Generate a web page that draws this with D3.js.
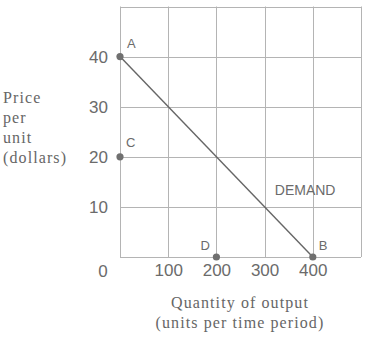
<!DOCTYPE html>
<html>
<head>
<meta charset="utf-8">
<script src="https://cdn.jsdelivr.net/npm/d3@7"></script>
<style>
  body { margin: 0; background: #fff; }
  svg { display: block; }
  .tick text { font-family: "Liberation Sans", Arial, sans-serif; font-size: 17px; fill: #6b6b6b; }
  .ptlabel { font-family: "Liberation Sans", Arial, sans-serif; font-size: 13px; fill: #6b6b6b; }
  .title { font-family: "Liberation Serif", "Times New Roman", serif; font-size: 16px; fill: #666; letter-spacing: 1.1px; }
</style>
</head>
<body>
<div id="chart"></div>
<script>
// chart data
var xTicks = [100, 200, 300, 400];
var yTicks = [10, 20, 30, 40];
var demandQuantity = [0, 400];
var demandPrice = [40, 0];
var pointLabels = ["A", "B", "C", "D"];
var pointQuantity = [0, 400, 0, 200];
var pointPrice = [40, 0, 20, 0];
var curveLabel = "DEMAND";
var yTitle = ["Price", "per", "unit", "(dollars)"];
var xTitle = ["Quantity of output", "(units per time period)"];

var width = 373, height = 339;

var svg = d3.select("#chart").append("svg")
    .attr("width", width)
    .attr("height", height);

var x = d3.scaleLinear().domain([0, 500]).range([120, 361]);
var y = d3.scaleLinear().domain([0, 50]).range([257, 6.5]);

// grid (the frame is part of it)
var grid = svg.append("g").attr("stroke", "#b4b4b4").attr("stroke-width", 1);
grid.selectAll(".vx")
    .data(d3.range(0, 501, 100))
    .enter().append("line")
    .attr("x1", function (d) {return Math.round(x(d)) + 0.5;})
    .attr("x2", function (d) {return Math.round(x(d)) + 0.5;})
    .attr("y1", y(50))
    .attr("y2", y(0));
grid.selectAll(".hy")
    .data(d3.range(0, 51, 10))
    .enter().append("line")
    .attr("y1", function (d) {return Math.round(y(d)) + 0.5;})
    .attr("y2", function (d) {return Math.round(y(d)) + 0.5;})
    .attr("x1", x(0))
    .attr("x2", x(500));

// axes, labels only
var xAxis = svg.append("g")
    .attr("transform", "translate(0," + y(0) + ")")
    .call(d3.axisBottom(x).tickValues(xTicks).tickSize(0).tickPadding(7));
var yAxis = svg.append("g")
    .attr("transform", "translate(" + x(0) + ",0)")
    .call(d3.axisLeft(y).tickValues(yTicks).tickSize(0).tickPadding(12));
xAxis.select(".domain").remove();
yAxis.select(".domain").remove();

// origin label
svg.append("text")
    .attr("class", "ptlabel")
    .style("font-size", "17px")
    .attr("x", x(0) - 17)
    .attr("y", y(0) + 20)
    .attr("text-anchor", "middle")
    .text("0");

// demand line
var line = d3.line()
    .x(function (d) {return x(d[0]);})
    .y(function (d) {return y(d[1]);});
svg.append("path")
    .datum(d3.zip(demandQuantity, demandPrice))
    .attr("d", line)
    .attr("fill", "none")
    .attr("stroke", "#666")
    .attr("stroke-width", 1.4);

svg.append("text")
    .attr("class", "ptlabel")
    .style("font-size", "14px")
    .attr("x", x(400) - 38)
    .attr("y", y(10) - 12)
    .text(curveLabel);

// points
var pts = pointLabels.map(function (l, i) {
    return {label: l, q: pointQuantity[i], p: pointPrice[i]};
});
var labelOffset = {A: [7, -9], B: [6, -7], C: [6, -10], D: [-16, -7]};

svg.selectAll(".pt")
    .data(pts)
    .enter().append("circle")
    .attr("cx", function (d) {return x(d.q);})
    .attr("cy", function (d) {return y(d.p);})
    .attr("r", 3.6)
    .attr("fill", "#707070");

svg.selectAll(".lbl")
    .data(pts)
    .enter().append("text")
    .attr("class", "ptlabel")
    .attr("x", function (d) {return x(d.q) + labelOffset[d.label][0];})
    .attr("y", function (d) {return y(d.p) + labelOffset[d.label][1];})
    .text(function (d) {return d.label;});

// axis titles
svg.append("text")
    .attr("class", "title")
    .selectAll("tspan")
    .data(yTitle)
    .enter().append("tspan")
    .attr("x", 3)
    .attr("y", function (d, i) {return 103 + i * 20;})
    .text(function (d) {return d;});

svg.append("text")
    .attr("class", "title")
    .attr("text-anchor", "middle")
    .selectAll("tspan")
    .data(xTitle)
    .enter().append("tspan")
    .attr("x", 240)
    .attr("y", function (d, i) {return 308 + i * 20;})
    .text(function (d) {return d;});
</script>
</body>
</html>
